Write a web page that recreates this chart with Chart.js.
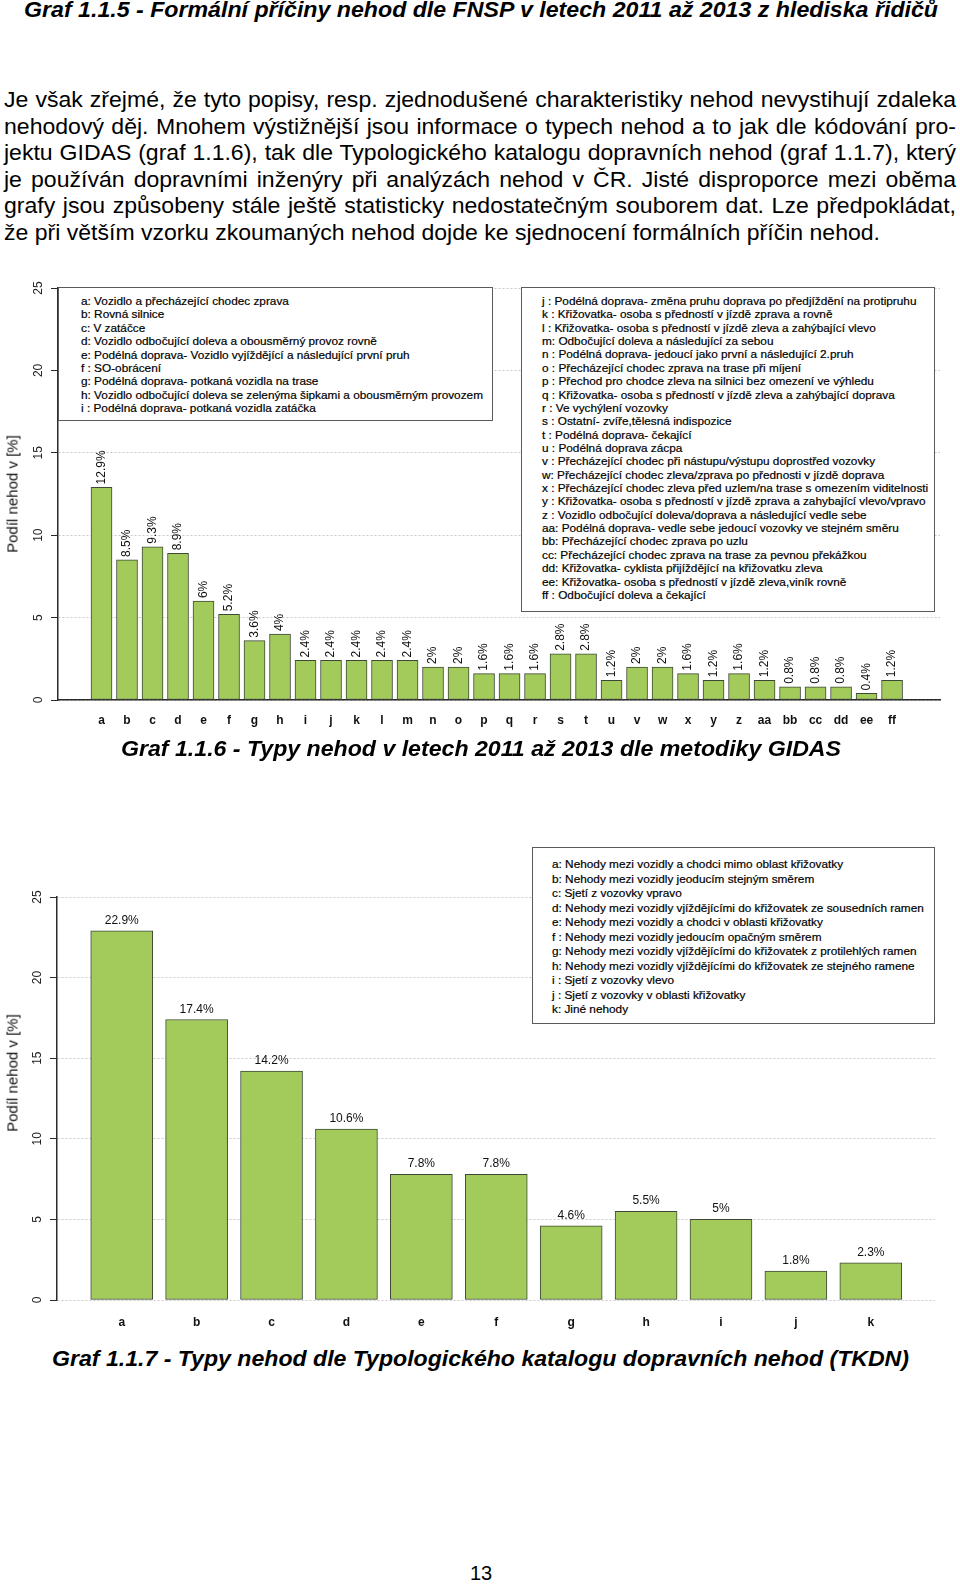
<!DOCTYPE html>
<html lang="cs">
<head>
<meta charset="utf-8">
<title>Typy nehod</title>
<script src="https://cdn.jsdelivr.net/npm/chart.js@4.4.1/dist/chart.umd.min.js"></script>
<style>
body { margin: 0; background: #fff; }
#page { position: relative; width: 960px; height: 1585px; overflow: hidden; font-family: "Liberation Sans", Arial, sans-serif; color: #000; }
.abs { position: absolute; white-space: nowrap; }
.cap { font-weight: bold; font-style: italic; font-size: 22px; line-height: 26px; display: inline-block; transform-origin: 0 50%; }
#para { position: absolute; left: 4px; top: 87px; width: 952px; font-size: 21.5px; line-height: 26.6px; transform-origin: 0 0; }
#para div { text-align: justify; text-align-last: justify; white-space: nowrap; }
#para div.last { text-align-last: left; }
.legend { position: absolute; background: #fff; border: 1px solid #5a5a5a; box-sizing: border-box; font-size: 11.8px; white-space: nowrap; color: #000; -webkit-text-stroke: 0.2px #000; }
.ytitle { position: absolute; font-size: 15px; white-space: nowrap; transform: translate(-50%, -50%) rotate(-90deg); color: #111; }
.chartbox { position: absolute; left: 0; width: 960px; }
</style>
</head>
<body>
<div id="page">

<div class="abs" style="left:24px; top:-3px;"><span class="cap" id="title">Graf 1.1.5 - Formální příčiny nehod dle FNSP v letech 2011 až 2013 z hlediska řidičů</span></div>

<div id="para">
<div>Je však zřejmé, že tyto popisy, resp. zjednodušené charakteristiky nehod nevystihují zdaleka</div>
<div>nehodový děj. Mnohem výstižnější jsou informace o typech nehod a to jak dle kódování pro-</div>
<div>jektu GIDAS (graf 1.1.6), tak dle Typologického katalogu dopravních nehod (graf 1.1.7), který</div>
<div>je používán dopravními inženýry při analýzách nehod v ČR. Jisté disproporce mezi oběma</div>
<div>grafy jsou způsobeny stále ještě statisticky nedostatečným souborem dat. Lze předpokládat,</div>
<div class="last"><span id="lastline">že při větším vzorku zkoumaných nehod dojde ke sjednocení formálních příčin nehod.</span></div>
</div>

<div class="chartbox" style="top:262px; height:478px;"><canvas id="gidasChart" width="960" height="478"></canvas></div>
<div class="ytitle" style="left:12px; top:494px;">Podíl nehod v [%]</div>

<div class="legend" style="left:58px; top:287px; width:435px; height:134px; padding:7px 0 0 22px; line-height:13.4px;">
a: Vozidlo a přecházející chodec zprava<br>
b: Rovná silnice<br>
c: V zatáčce<br>
d: Vozidlo odbočující doleva a obousměrný provoz rovně<br>
e: Podélná doprava- Vozidlo vyjíždějící a následující první pruh<br>
f : SO-obrácení<br>
g: Podélná doprava- potkaná vozidla na trase<br>
h: Vozidlo odbočující doleva se zelenýma šipkami a obousměrným provozem<br>
i : Podélná doprava- potkaná vozidla zatáčka
</div>

<div class="legend" style="left:521px; top:287px; width:414px; height:325px; padding:7px 0 0 20px; line-height:13.36px;">
j : Podélná doprava- změna pruhu doprava po předjíždění na protipruhu<br>
k : Křižovatka- osoba s předností v jízdě zprava a rovně<br>
l : Křižovatka- osoba s předností v jízdě zleva a zahýbající vlevo<br>
m: Odbočující doleva a následující za sebou<br>
n : Podélná doprava- jedoucí jako první a následující 2.pruh<br>
o : Přecházející chodec zprava na trase při míjení<br>
p : Přechod pro chodce zleva na silnici bez omezení ve výhledu<br>
q : Křižovatka- osoba s předností v jízdě zleva a zahýbající doprava<br>
r : Ve vychýlení vozovky<br>
s : Ostatní- zvíře,tělesná indispozice<br>
t : Podélná doprava- čekající<br>
u : Podélná doprava zácpa<br>
v : Přecházející chodec při nástupu/výstupu doprostřed vozovky<br>
w: Přecházející chodec zleva/zprava po přednosti v jízdě doprava<br>
x : Přecházející chodec zleva před uzlem/na trase s omezením viditelnosti<br>
y : Křižovatka- osoba s předností v jízdě zprava a zahybající vlevo/vpravo<br>
z : Vozidlo odbočující doleva/doprava a následující vedle sebe<br>
aa: Podélná doprava- vedle sebe jedoucí vozovky ve stejném směru<br>
bb: Přecházející chodec zprava po uzlu<br>
cc: Přecházející chodec zprava na trase za pevnou překážkou<br>
dd: Křižovatka- cyklista přijíždějící na křižovatku zleva<br>
ee: Křižovatka- osoba s předností v jízdě zleva,viník rovně<br>
ff : Odbočující doleva a čekající
</div>

<div class="abs" style="left:121px; top:736px;"><span class="cap" id="cap1">Graf 1.1.6 - Typy nehod v letech 2011 až 2013 dle metodiky GIDAS</span></div>

<div class="chartbox" style="top:870px; height:470px;"><canvas id="tkdnChart" width="960" height="470"></canvas></div>
<div class="ytitle" style="left:12px; top:1073px;">Podíl nehod v [%]</div>

<div class="legend" style="left:532px; top:847px; width:403px; height:177px; padding:9px 0 0 19px; line-height:14.55px;">
a: Nehody mezi vozidly a chodci mimo oblast křižovatky<br>
b: Nehody mezi vozidly jeoducím stejným směrem<br>
c: Sjetí z vozovky vpravo<br>
d: Nehody mezi vozidly vjíždějícími do křižovatek ze sousedních ramen<br>
e: Nehody mezi vozidly a chodci v oblasti křižovatky<br>
f : Nehody mezi vozidly jedoucím opačným směrem<br>
g: Nehody mezi vozidly vjíždějícími do křižovatek z protilehlých ramen<br>
h: Nehody mezi vozidly vjíždějícími do křižovatek ze stejného ramene<br>
i : Sjetí z vozovky vlevo<br>
j : Sjetí z vozovky v oblasti křižovatky<br>
k: Jiné nehody
</div>

<div class="abs" style="left:52px; top:1346px;"><span class="cap" id="cap2">Graf 1.1.7 - Typy nehod dle Typologického katalogu dopravních nehod (TKDN)</span></div>

<div class="abs" style="left:0; width:962px; top:1560px; line-height:26px; font-size:20px; text-align:center;">13</div>

</div>
<script>
// graf 1.1.6 - GIDAS
var gidasCodes = ['a', 'b', 'c', 'd', 'e', 'f', 'g', 'h', 'i', 'j', 'k', 'l', 'm', 'n', 'o', 'p',
    'q', 'r', 's', 't', 'u', 'v', 'w', 'x', 'y', 'z', 'aa', 'bb', 'cc', 'dd', 'ee', 'ff'];
var gidasShares = [12.9, 8.5, 9.3, 8.9, 6, 5.2, 3.6, 4, 2.4, 2.4, 2.4, 2.4, 2.4, 2, 2, 1.6,
    1.6, 1.6, 2.8, 2.8, 1.2, 2, 2, 1.6, 1.2, 1.6, 1.2, 0.8, 0.8, 0.8, 0.4, 1.2];

// graf 1.1.7 - TKDN
var tkdnCodes = ['a', 'b', 'c', 'd', 'e', 'f', 'g', 'h', 'i', 'j', 'k'];
var tkdnShares = [22.9, 17.4, 14.2, 10.6, 7.8, 7.8, 4.6, 5.5, 5, 1.8, 2.3];

var yMax = 25;
var yStep = 5;

var FONT = '"Liberation Sans", Arial, sans-serif';
var GREEN = '#A2CB5B';
var EDGE = '#3e4836';

// popisky nad sloupci
var barLabels = {
    id: 'barLabels',
    afterDatasetsDraw: function (chart, args, opts) {
        var ctx = chart.ctx;
        var ds = chart.data.datasets[0];
        ctx.save();
        ctx.fillStyle = '#111';
        ctx.font = '12px ' + FONT;
        chart.getDatasetMeta(0).data.forEach(function (bar, i) {
            var txt = ds.data[i].y + '%';
            if (opts.rotate) {
                ctx.save();
                ctx.translate(bar.x, bar.y - 3);
                ctx.rotate(-Math.PI / 2);
                ctx.textAlign = 'left';
                ctx.textBaseline = 'middle';
                ctx.fillText(txt, 0, 0);
                ctx.restore();
            } else {
                ctx.textAlign = 'center';
                ctx.textBaseline = 'alphabetic';
                ctx.fillText(txt, bar.x, bar.y - 7);
            }
        });
        ctx.restore();
    }
};

function makeChart(id, codes, shares, o) {
    return new Chart(document.getElementById(id), {
        type: 'bar',
        data: {
            datasets: [{
                data: shares.map(function (v, i) { return { x: i, y: v }; }),
                backgroundColor: GREEN,
                borderColor: EDGE,
                borderWidth: 1,
                borderSkipped: false,
                barThickness: o.barWidth
            }]
        },
        options: {
            responsive: false,
            animation: false,
            layout: { padding: o.padding },
            plugins: {
                legend: { display: false },
                tooltip: { enabled: false },
                barLabels: { rotate: o.rotate }
            },
            scales: {
                x: {
                    type: 'linear',
                    offset: false,
                    min: o.xMin,
                    max: o.xMax,
                    grid: { display: false, drawTicks: false },
                    border: { display: o.baseline, color: '#2b2b2b', width: 1.5 },
                    ticks: {
                        stepSize: 1, autoSkip: false, maxRotation: 0, padding: o.xPad,
                        color: '#111', font: { size: 12, weight: 'bold', family: FONT },
                        callback: function (v) {
                            return (Number.isInteger(v) && codes[v] !== undefined) ? codes[v] : '';
                        }
                    },
                    afterFit: function (s) { s.height = 40; }
                },
                y: {
                    min: 0,
                    max: yMax,
                    ticks: {
                        stepSize: yStep, minRotation: 90, maxRotation: 90, crossAlign: 'center',
                        padding: 6, color: '#222', font: { size: 12, family: FONT }
                    },
                    grid: { color: '#c9c9c9', tickColor: '#2b2b2b', tickLength: 7, tickBorderDash: [] },
                    border: { display: true, color: '#2b2b2b', width: 1.5, dash: [2, 2] },
                    afterFit: function (s) { s.width = o.yWidth; }
                }
            }
        },
        plugins: [barLabels]
    });
}

makeChart('gidasChart', gidasCodes, gidasShares, {
    xMin: -1.706, xMax: 32.88, barWidth: 21, rotate: true, baseline: true,
    xPad: 13, yWidth: 58, padding: { top: 26, right: 20, left: 0, bottom: 0 }
});

makeChart('tkdnChart', tkdnCodes, tkdnShares, {
    xMin: -0.864, xMax: 10.857, barWidth: 62, rotate: false, baseline: false,
    xPad: 15, yWidth: 57, padding: { top: 27, right: 25, left: 0, bottom: 0 }
});

// šířky textů podle předlohy
function squeeze(id, target) {
    var el = document.getElementById(id);
    var w = el.getBoundingClientRect().width;
    el.style.transform = 'scaleX(' + (target / w) + ')';
}
squeeze('title', 914);
squeeze('cap1', 720);
squeeze('cap2', 857);

var para = document.getElementById('para');
var r = 876 / document.getElementById('lastline').getBoundingClientRect().width;
para.style.width = (952 / r) + 'px';
para.style.transform = 'scaleX(' + r + ')';
</script>
</body>
</html>
